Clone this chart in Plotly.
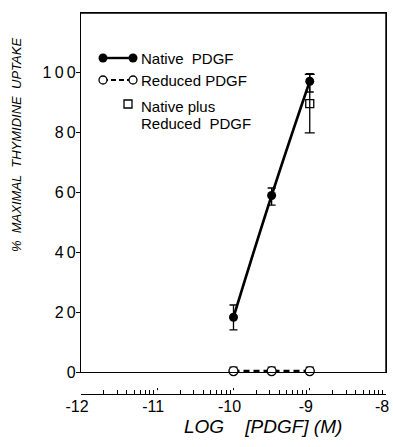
import plotly.graph_objects as go

# ---- data ----
log_conc = [-10.0, -9.5, -9.0]
native = [18.3, 59.0, 97.2]
native_err_plus = [4.1, 2.5, 2.5]
native_err_minus = [4.2, 3.2, 3.6]
reduced = [0.3, 0.3, 0.3]
reduced_err = [1.3, 1.3, 1.3]
mix_x = [-9.0]
mix_y = [89.7]
mix_err = [9.8]

x_ticks = [-12, -11, -10, -9, -8]
x_ticktext = ["-12", "-11", "-10", "-9", "-8"]
y_ticks = [0, 20, 40, 60, 80, 100]

W, H = 393, 447
ML, MR, MT, MB = 81, 7, 13, 53
PW, PH = W - ML - MR, H - MT - MB
Y0PX = 372          # pixel row of y = 0
XR = [-12, -8]
YR = [0, 120]


def px(x):
    return (x - ML) / PW


def py(y):
    return (H - MB - y) / PH


def dx(p):  # pixel column -> data x (legend placement only)
    return XR[0] + (p - ML) * (XR[1] - XR[0]) / PW


def dy(p):  # pixel row -> data y (legend placement only)
    return YR[0] + (Y0PX - p) * (YR[1] - YR[0]) / (Y0PX - MT)


FONT = "Liberation Sans, Arial, sans-serif"

fig = go.Figure()

# frame (top and right edges of the data panel, taken from the axis ranges)
fig.add_trace(go.Scatter(x=[XR[0], XR[1], XR[1]], y=[YR[1], YR[1], YR[0]], mode="lines",
                         line=dict(color="black", width=1.4), cliponaxis=False,
                         showlegend=False, hoverinfo="skip"))

fig.add_trace(go.Scatter(
    x=log_conc, y=native, mode="lines+markers",
    line=dict(color="black", width=2.6, shape="spline", smoothing=1.3),
    marker=dict(color="black", size=9),
    error_y=dict(type="data", array=native_err_plus, arrayminus=native_err_minus,
                 symmetric=False, color="black", thickness=1.3, width=4),
    cliponaxis=False, showlegend=False))

fig.add_trace(go.Scatter(
    x=log_conc, y=reduced, mode="lines+markers",
    line=dict(color="black", width=2.6, dash="6px,4px"),
    marker=dict(color="white", size=9, line=dict(color="black", width=1.4)),
    error_y=dict(type="data", array=reduced_err, arrayminus=[0, 0, 0], symmetric=False,
                 color="black", thickness=1.3, width=4),
    cliponaxis=False, showlegend=False))

fig.add_trace(go.Scatter(
    x=mix_x, y=mix_y, mode="markers",
    marker=dict(symbol="square-open", color="black", size=8, line=dict(width=1.3)),
    error_y=dict(type="data", array=mix_err, color="black", thickness=1.3, width=5),
    cliponaxis=False, showlegend=False))

# ---- hand-drawn legend ----
fig.add_trace(go.Scatter(x=[dx(103), dx(133)], y=[dy(58), dy(58)], mode="lines+markers",
                         line=dict(color="black", width=2.4),
                         marker=dict(color="black", size=9),
                         cliponaxis=False, showlegend=False, hoverinfo="skip"))
fig.add_trace(go.Scatter(x=[dx(103), dx(133)], y=[dy(80), dy(80)], mode="lines+markers",
                         line=dict(color="black", width=2.2, dash="5px,3px"),
                         marker=dict(color="white", size=8, line=dict(color="black", width=1.3)),
                         cliponaxis=False, showlegend=False, hoverinfo="skip"))
fig.add_trace(go.Scatter(x=[dx(128)], y=[dy(104)], mode="markers",
                         marker=dict(symbol="square-open", color="black", size=8, line=dict(width=1.3)),
                         cliponaxis=False, showlegend=False, hoverinfo="skip"))

# invisible traces so the separate tick-axis subplots exist
fig.add_trace(go.Scatter(x=[-12], y=[0], xaxis="x3", yaxis="y3", mode="markers",
                         marker=dict(opacity=0), showlegend=False, hoverinfo="skip"))
fig.add_trace(go.Scatter(x=[-12], y=[0], xaxis="x4", yaxis="y4", mode="markers",
                         marker=dict(opacity=0), showlegend=False, hoverinfo="skip"))

annos = []
for txt, yy in [("Native  PDGF", 58), ("Reduced PDGF", 80), ("Native plus", 106), ("Reduced  PDGF", 123)]:
    annos.append(dict(x=dx(139), y=dy(yy), xref="x", yref="y", text=txt, showarrow=False,
                      xanchor="left", yanchor="middle", font=dict(family=FONT, size=15, color="black")))

annos.append(dict(x=px(16), y=py(145), xref="paper", yref="paper",
                  text="<i>%  MAXIMAL  THYMIDINE  UPTAKE</i>", textangle=-90, showarrow=False,
                  xanchor="center", yanchor="middle", font=dict(family=FONT, size=13, color="black")))
annos.append(dict(x=px(263), y=py(426), xref="paper", yref="paper",
                  text="<i>LOG    [PDGF] (M)</i>", showarrow=False,
                  xanchor="center", yanchor="middle", font=dict(family=FONT, size=19, color="black")))

minor_vals = []
for d in range(-12, -8):
    for k in [0.30103, 0.47712, 0.60206, 0.69897, 0.77815, 0.84510, 0.90309, 0.95424]:
        minor_vals.append(d + k)

ydom0 = (H - MB - Y0PX) / PH
tickdom = [0, 0.01]

fig.update_layout(
    width=W, height=H, autosize=False, margin=dict(l=ML, r=MR, t=MT, b=MB, autoexpand=False),
    paper_bgcolor="white", plot_bgcolor="white",
    font=dict(family=FONT, color="black"),
    annotations=annos,
    xaxis=dict(range=XR, anchor="y", showline=True, mirror=True, linecolor="black", linewidth=1.3,
               ticks="", showticklabels=False, showgrid=False, zeroline=False),
    yaxis=dict(domain=[ydom0, 1], range=YR, anchor="x", showline=True, mirror=True,
               linecolor="black", linewidth=1.3,
               ticks="outside", ticklen=4, tickwidth=1.2, tickcolor="black",
               tickvals=y_ticks, ticktext=["\u2009".join(str(v)) for v in y_ticks],
               tickfont=dict(size=16), ticklabelstandoff=-3, showgrid=False, zeroline=False),
    xaxis3=dict(range=XR, anchor="y3", showline=True, linecolor="black", linewidth=1.2,
                ticks="inside", ticklen=6, tickwidth=1.2, tickcolor="black",
                tickvals=x_ticks, ticktext=x_ticktext, tickfont=dict(size=16),
                ticklabelshift=-4, ticklabelstandoff=-2, showgrid=False, zeroline=False),
    yaxis3=dict(domain=tickdom, range=[0, 1], anchor="x3", visible=False),
    xaxis4=dict(range=XR, anchor="y4", showline=False, ticks="inside", ticklen=4, tickwidth=1.2,
                tickcolor="black", tickvals=minor_vals, showticklabels=False,
                showgrid=False, zeroline=False),
    yaxis4=dict(domain=tickdom, range=[0, 1], anchor="x4", visible=False),
)

fig.write_html("out.html", config={"displayModeBar": False},
               post_script="document.body.style.margin='0';document.body.style.overflow='hidden';")
